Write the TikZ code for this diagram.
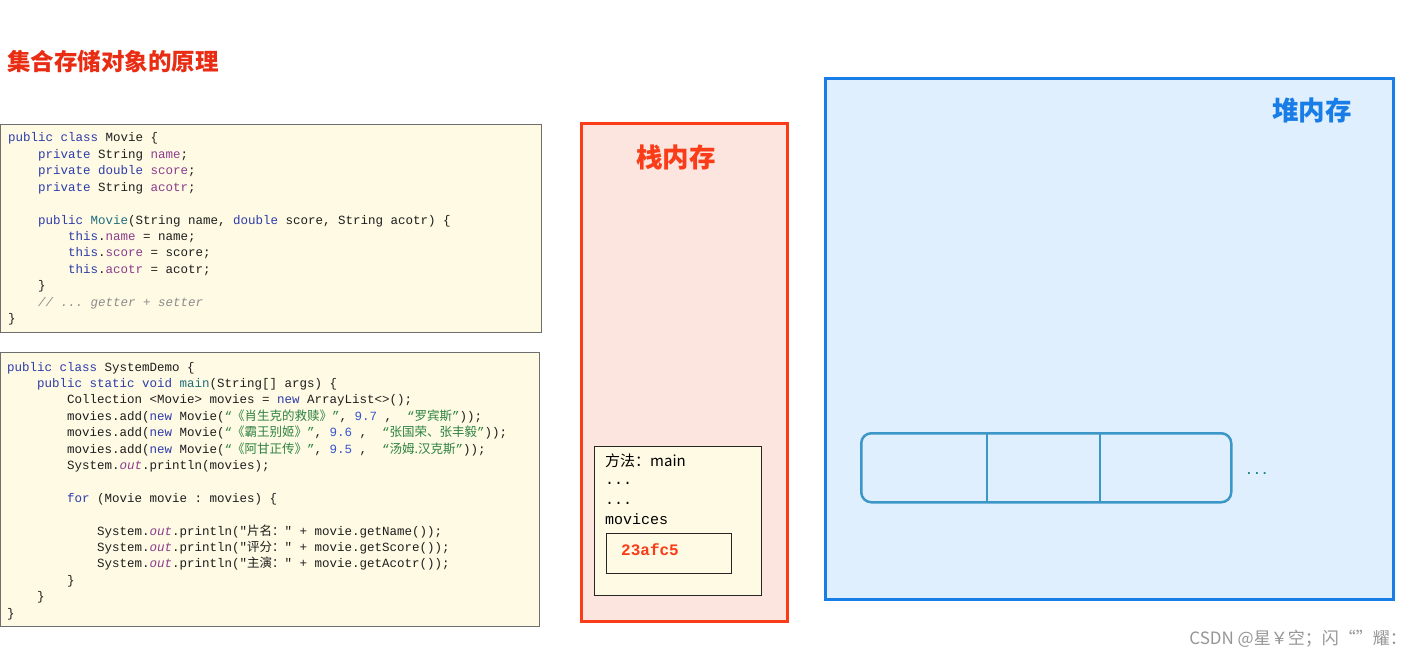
\documentclass[tikz,border=0pt]{standalone}
\usepackage{fontspec}
\setmonofont{Liberation Mono}
\newfontfamily\cjk{Noto Sans CJK SC}
\definecolor{kwc}{RGB}{45,60,170}
\definecolor{tlc}{RGB}{30,110,125}
\definecolor{fdc}{RGB}{140,60,140}
\definecolor{stc}{RGB}{45,130,65}
\definecolor{nmc}{RGB}{55,85,205}
\definecolor{cmc}{RGB}{140,140,140}
\definecolor{codec}{RGB}{30,30,30}
\definecolor{cream}{RGB}{254,250,228}
\definecolor{boxgray}{RGB}{110,110,110}
\definecolor{titred}{RGB}{232,45,20}
\definecolor{stkred}{RGB}{250,60,25}
\definecolor{stkfill}{RGB}{252,229,223}
\definecolor{heapblue}{RGB}{25,125,232}
\definecolor{heapfill}{RGB}{223,239,253}
\definecolor{arrblue}{RGB}{60,150,200}
\definecolor{dotteal}{RGB}{30,130,140}
\definecolor{wmgray}{RGB}{150,150,150}
\newcommand\jkw[1]{\textcolor{kwc}{#1}}
\newcommand\jtl[1]{\textcolor{tlc}{#1}}
\newcommand\jfd[1]{\textcolor{fdc}{#1}}
\newcommand\jst[1]{\textcolor{stc}{#1}}
\newcommand\jnm[1]{\textcolor{nmc}{#1}}
\newcommand\jcm[1]{\textcolor{cmc}{\itshape #1}}
\newcommand\jout{\textcolor{fdc}{\itshape out}}
\newcommand\codefont{\ttfamily\fontsize{12.5}{15}\selectfont}
\newcommand\cc{\cjk\fontsize{12.5}{15}\selectfont}
\tikzset{
  codebox/.style={draw=boxgray, line width=1.2, fill=cream, anchor=north west, inner sep=0},
  cl/.style={anchor=base west, inner sep=0, font=\codefont, text=codec},
  memtitle/.style={font=\cjk\bfseries\fontsize{26.5}{31}\selectfont, inner sep=0},
  stacktxt/.style={anchor=base west, inner sep=0, font=\ttfamily\fontsize{15}{18}\selectfont, text=black}
}
\begin{document}
\begin{tikzpicture}[x=1pt,y=-1pt]
\useasboundingbox[fill=white] (0,0) rectangle (1412,658);
% title
\node[anchor=west, inner sep=0, font=\cjk\bfseries\fontsize{23.5}{28}\selectfont, text=titred] (title) at (7,62) {集合存储对象的原理};
% code box 1
\node[codebox, minimum width=541, minimum height=208] (movie) at (0,124) {};
\node[cl] (m0) at (8,142) {\jkw{public class} Movie \{};
\node[cl] (m1) at (38,158.4) {\jkw{private} String \jfd{name};};
\node[cl] (m2) at (38,174.8) {\jkw{private double} \jfd{score};};
\node[cl] (m3) at (38,191.2) {\jkw{private} String \jfd{acotr};};
\node[cl] (m5) at (38,224) {\jkw{public} \jtl{Movie}(String name, \jkw{double} score, String acotr) \{};
\node[cl] (m6) at (68,240.4) {\jkw{this}.\jfd{name} = name;};
\node[cl] (m7) at (68,256.8) {\jkw{this}.\jfd{score} = score;};
\node[cl] (m8) at (68,273.2) {\jkw{this}.\jfd{acotr} = acotr;};
\node[cl] (m9) at (38,289.6) {\}};
\node[cl] (m10) at (38,306) {\jcm{// ... getter + setter}};
\node[cl] (m11) at (8,322.4) {\}};
% code box 2
\node[codebox, minimum width=539, minimum height=274] (demo) at (0,352) {};
\node[cl] (s0) at (7,371) {\jkw{public class} SystemDemo \{};
\node[cl] (s1) at (37,387.4) {\jkw{public static void} \jtl{main}(String[] args) \{};
\node[cl] (s2) at (67,403.8) {Collection <Movie> movies = \jkw{new} ArrayList<>();};
\node[cl] (s3) at (67,420.2) {movies.add(\jkw{new} Movie(\jst{“{\cc 《肖生克的救赎》}”}, \jnm{9.7} ,~ \jst{“{\cc 罗宾斯}”}));};
\node[cl] (s4) at (67,436.6) {movies.add(\jkw{new} Movie(\jst{“{\cc 《霸王别姬》}”}, \jnm{9.6} ,~ \jst{“{\cc 张国荣、张丰毅}”}));};
\node[cl] (s5) at (67,453) {movies.add(\jkw{new} Movie(\jst{“{\cc 《阿甘正传》}”}, \jnm{9.5} ,~ \jst{“{\cc 汤姆.汉克斯}”}));};
\node[cl] (s6) at (67,469.4) {System.\jout.println(movies);};
\node[cl] (s8) at (67,502.2) {\jkw{for} (Movie movie : movies) \{};
\node[cl] (s10) at (97,535) {System.\jout.println("{\cc 片名：}" + movie.getName());};
\node[cl] (s11) at (97,551.4) {System.\jout.println("{\cc 评分：}" + movie.getScore());};
\node[cl] (s12) at (97,567.8) {System.\jout.println("{\cc 主演：}" + movie.getAcotr());};
\node[cl] (s13) at (67,584.2) {\}};
\node[cl] (s14) at (37,600.6) {\}};
\node[cl] (s15) at (7,617) {\}};
% stack memory
\node[draw=stkred, line width=3.2, fill=stkfill, minimum width=206, minimum height=498, anchor=north west, inner sep=0] (stack) at (580,122) {};
\node[memtitle, text=stkred] (stitle) at (676,157) {栈内存};
\node[draw=black!85, line width=1.2, fill=cream, minimum width=167, minimum height=149, anchor=north west, inner sep=0] (frame) at (594,446) {};
\node[anchor=base west, inner sep=0, font=\cjk\fontsize{15}{18}\selectfont] (fm) at (605,466) {方法：main};
\node[stacktxt] (d1) at (605,484) {...};
\node[stacktxt] (d2) at (605,504) {...};
\node[stacktxt] (mv) at (605,524) {movices};
\node[draw=black!85, line width=1.2, minimum width=125, minimum height=40, anchor=north west, inner sep=0] (ref) at (606,533) {};
\node[anchor=west, inner sep=0, font=\ttfamily\bfseries\fontsize{16}{19}\selectfont, text=stkred] (addr) at (621,550) {23afc5};
% heap memory
\node[draw=heapblue, line width=3.2, fill=heapfill, minimum width=568, minimum height=521, anchor=north west, inner sep=0] (heap) at (824,77) {};
\node[memtitle, text=heapblue] (htitle) at (1312,110) {堆内存};
\node[draw=arrblue, line width=2.5, rounded corners=10, minimum width=370, minimum height=69, anchor=north west, inner sep=0] (arr) at (860,432) {};
\coordinate (a1t) at (987,432);
\coordinate (a1b) at (987,501);
\coordinate (a2t) at (1100,432);
\coordinate (a2b) at (1100,501);
\draw[arrblue, line width=2.5] (a1t) -- (a1b);
\draw[arrblue, line width=2.5] (a2t) -- (a2b);
\node[anchor=base west, inner sep=0, font=\ttfamily\bfseries\fontsize{13}{16}\selectfont, text=dotteal] (hdots) at (1245,474) {...};
% watermark
\node[anchor=east, inner sep=0, font=\cjk\fontsize{17}{20}\selectfont, text=wmgray] (wm) at (1407,639) {CSDN @星￥空；闪“”耀：};
\end{tikzpicture}
\end{document}
